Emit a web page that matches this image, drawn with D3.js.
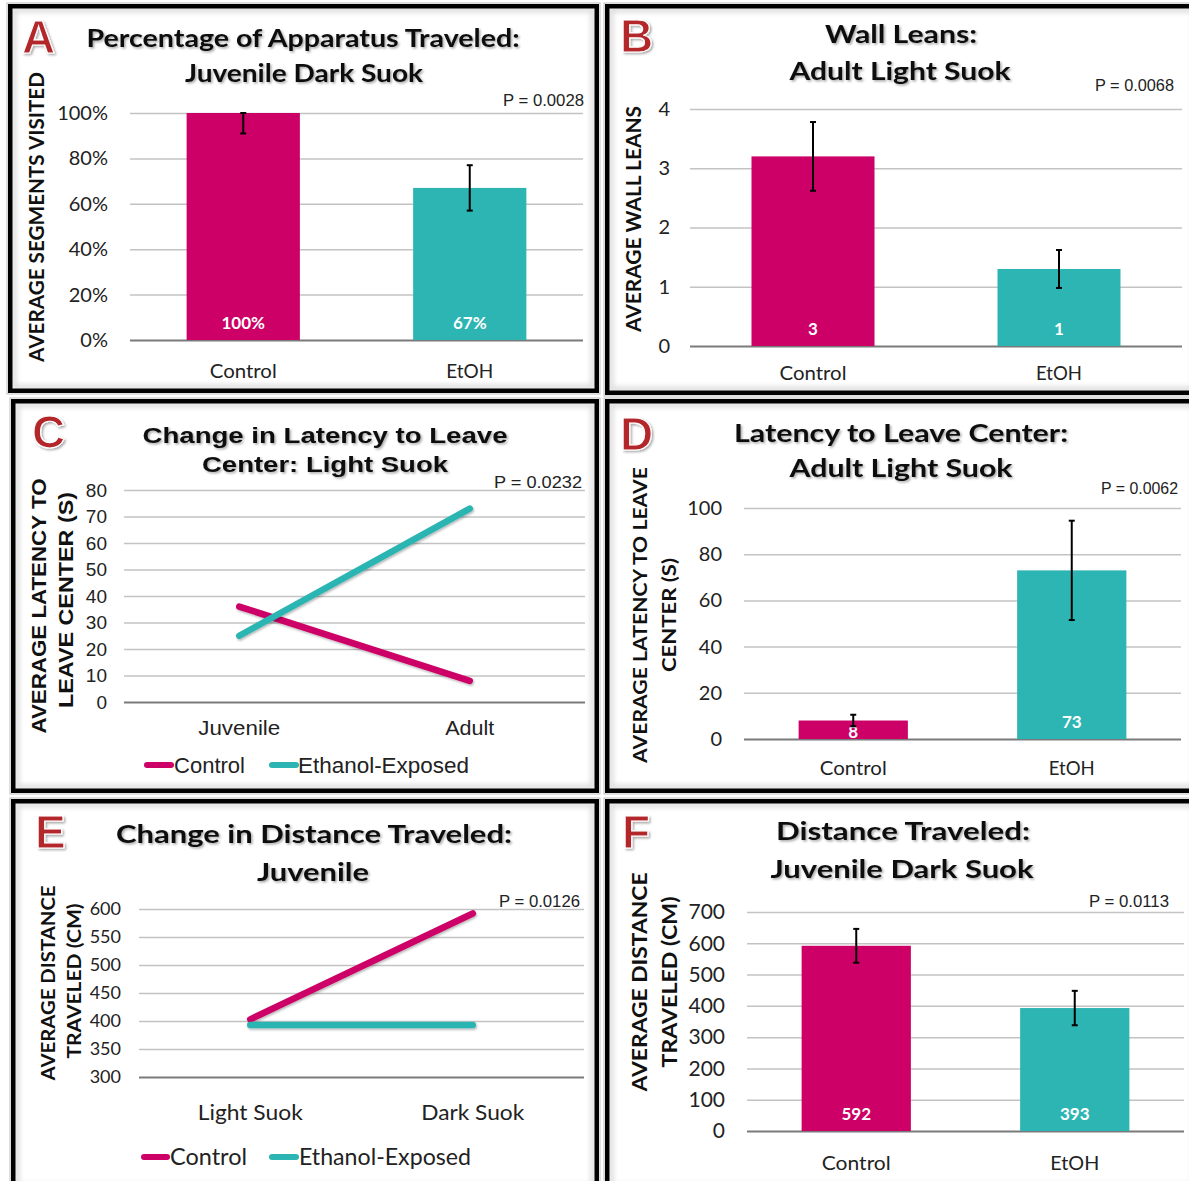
<!DOCTYPE html>
<html>
<head>
<meta charset="utf-8">
<script src="https://cdn.jsdelivr.net/npm/d3@7"></script>
<style>
  body { margin: 0; background: #fff; }
</style>
</head>
<body>
<div id="chart"></div>
<script>
"use strict";

// ---- data ----
var groups = ["Control", "EtOH"];
var seriesNames = ["Control", "Ethanol-Exposed"];

// A: percentage of apparatus traveled, juvenile dark suok
var pctVisited = [100, 67];
var pctVisitedErr = [9, 10];
var pctTicks = [0, 20, 40, 60, 80, 100];

// B: wall leans, adult light suok
var wallLeans = [3.2, 1.3];
var wallLeansErr = [0.58, 0.32];
var wallTicks = [0, 1, 2, 3, 4];

// C: change in latency to leave center, light suok
var ages = ["Juvenile", "Adult"];
var latencyControl = [36, 8];
var latencyEthanol = [25, 73];
var latencyLineTicks = [0, 10, 20, 30, 40, 50, 60, 70, 80];

// D: latency to leave center, adult light suok
var latencyAdult = [8, 73];
var latencyAdultErr = [2.5, 21.5];
var latencyBarTicks = [0, 20, 40, 60, 80, 100];

// E: change in distance traveled, juvenile
var suoks = ["Light Suok", "Dark Suok"];
var distanceControl = [403, 592];
var distanceEthanol = [393, 393];
var distanceLineTicks = [300, 350, 400, 450, 500, 550, 600];

// F: distance traveled, juvenile dark suok
var distanceDark = [592, 393];
var distanceDarkErr = [54, 55];
var distanceBarTicks = [0, 100, 200, 300, 400, 500, 600, 700];

var pValues = ["P = 0.0028", "P = 0.0068", "P = 0.0232", "P = 0.0062", "P = 0.0126", "P = 0.0113"];

// ---- style ----
var colors = ["#cc0066", "#2cb5b3"];
var CAL = "Lato, 'Open Sans', sans-serif";
var ARIAL = "'Liberation Sans', Arial, sans-serif";
var NARROW = "'Liberation Sans Narrow', 'Liberation Sans', sans-serif";
var gridColor = "#c3c3c3";
var zeroColor = "#7a7a7a";

var svg = d3.select("#chart").append("svg")
  .attr("width", 1189)
  .attr("height", 1181);

var defs = svg.append("defs");
defs.append("filter").attr("id", "shadow")
  .attr("x", "-10%").attr("y", "-30%").attr("width", "130%").attr("height", "170%")
  .append("feDropShadow")
    .attr("dx", 1.5).attr("dy", 1.5).attr("stdDeviation", 1.2)
    .attr("flood-color", "#000").attr("flood-opacity", 0.35);
defs.append("filter").attr("id", "blur")
  .append("feGaussianBlur").attr("stdDeviation", 2.5);
// user space region so a flat line keeps its shadow
defs.append("filter").attr("id", "lineShadow")
  .attr("filterUnits", "userSpaceOnUse")
  .attr("x", 0).attr("y", 0).attr("width", 1189).attr("height", 1181)
  .append("feDropShadow")
    .attr("dx", 1).attr("dy", 1.5).attr("stdDeviation", 1)
    .attr("flood-color", "#000").attr("flood-opacity", 0.3);

// helper for all the text on the page
function label(g, x, y, str, o) {
  var t = g.append("text")
    .attr("x", x)
    .attr("y", y)
    .attr("font-family", o.family || CAL)
    .attr("font-size", o.size)
    .attr("font-weight", o.weight || "normal")
    .attr("fill", o.fill || "#111")
    .attr("text-anchor", o.anchor || "middle")
    .text(str);
  if (o.width) {
    t.attr("textLength", o.width).attr("lengthAdjust", "spacingAndGlyphs");
  }
  if (o.rotate) {
    t.attr("transform", "rotate(-90," + x + "," + y + ")");
  }
  if (o.filter) {
    t.attr("filter", "url(#" + o.filter + ")");
  }
  return t;
}

function frame(x0, y0, x1, y1, letter, lx, ly) {
  var g = svg.append("g");
  // soft inner shade
  g.append("rect")
    .attr("x", x0 + 6).attr("y", y0 + 6)
    .attr("width", x1 - x0 - 12).attr("height", y1 - y0 - 12)
    .attr("fill", "none").attr("stroke", "#dcdcdc").attr("stroke-width", 5)
    .attr("filter", "url(#blur)");
  g.append("rect")
    .attr("x", x0 - 1).attr("y", y0 - 1)
    .attr("width", x1 - x0 + 2).attr("height", y1 - y0 + 2)
    .attr("fill", "none").attr("stroke", "#bdbdbd").attr("stroke-width", 1);
  g.append("rect")
    .attr("x", x0 + 2.25).attr("y", y0 + 2.25)
    .attr("width", x1 - x0 - 4.5).attr("height", y1 - y0 - 4.5)
    .attr("fill", "none").attr("stroke", "#000").attr("stroke-width", 4.5);
  label(g, lx, ly, letter, {family: ARIAL, size: 46, weight: "bold", fill: "#b3262c", anchor: "start", filter: "shadow"})
    .attr("stroke", "#fff").attr("stroke-width", 1.2);
  return g;
}

function barPanel(cfg) {
  var g = svg.append("g");
  var x = d3.scaleBand().domain(groups).range([cfg.x0, cfg.x1]).paddingInner(0.5).paddingOuter(0.25);
  var y = d3.scaleLinear().domain(cfg.domain).range([cfg.yBottom, cfg.yTop]);
  var base = cfg.domain[0];

  var axis = g.append("g")
    .attr("transform", "translate(" + cfg.x0 + ",0)")
    .call(d3.axisLeft(y)
      .tickValues(cfg.ticks)
      .tickSize(-(cfg.x1 - cfg.x0))
      .tickPadding(cfg.tickPad)
      .tickFormat(cfg.tickFormat || d3.format("d")));
  axis.select(".domain").remove();
  axis.selectAll(".tick line")
    .attr("stroke", function(d) { return d === base ? zeroColor : gridColor; })
    .attr("stroke-width", function(d) { return d === base ? 2 : 1.5; });
  axis.selectAll(".tick text")
    .attr("font-family", cfg.font)
    .attr("font-size", cfg.tickSize)
    .attr("fill", "#222");

  var rows = groups.map(function(k, i) {
    return {key: k, v: cfg.values[i], e: cfg.errs[i], i: i};
  });

  g.selectAll("rect.bar")
    .data(rows)
    .enter()
    .append("rect")
      .attr("class", "bar")
      .attr("x", function(d) { return x(d.key); })
      .attr("width", x.bandwidth())
      .attr("y", function(d) { return y(d.v); })
      .attr("height", function(d) { return y(base) - y(d.v); })
      .attr("fill", function(d) { return colors[d.i]; });

  // value labels inside the bars
  rows.forEach(function(d) {
    var h = y(base) - y(d.v);
    var ly = h < 30 ? y(base) - 1 : y(base) - 11;
    label(g, x(d.key) + x.bandwidth() / 2, ly, cfg.valueFormat(d.v),
      {size: cfg.valueSize, weight: "bold", fill: "#fff"});
  });

  // error bars
  var err = g.append("g").attr("stroke", "#000").attr("stroke-width", 2);
  rows.forEach(function(d) {
    var cx = x(d.key) + x.bandwidth() / 2;
    var hi = y(Math.min(d.v + d.e, cfg.domain[1]));
    var lo = y(d.v - d.e);
    err.append("line").attr("x1", cx).attr("x2", cx).attr("y1", hi).attr("y2", lo);
    err.append("line").attr("x1", cx - 3).attr("x2", cx + 3).attr("y1", hi).attr("y2", hi);
    err.append("line").attr("x1", cx - 3).attr("x2", cx + 3).attr("y1", lo).attr("y2", lo);
  });

  // category labels
  groups.forEach(function(k, i) {
    label(g, x(k) + x.bandwidth() / 2, cfg.catY, k, {size: cfg.catSize, width: cfg.catW[i], fill: "#222"});
  });
  return g;
}

function linePanel(cfg) {
  var g = svg.append("g");
  var x = d3.scalePoint().domain(cfg.cats).range([cfg.x0, cfg.x1]).padding(0.5);
  var y = d3.scaleLinear().domain(cfg.domain).range([cfg.yBottom, cfg.yTop]);
  var base = cfg.domain[0];

  var axis = g.append("g")
    .attr("transform", "translate(" + cfg.x0 + ",0)")
    .call(d3.axisLeft(y)
      .tickValues(cfg.ticks)
      .tickSize(-(cfg.x1 - cfg.x0))
      .tickPadding(cfg.tickPad)
      .tickFormat(d3.format("d")));
  axis.select(".domain").remove();
  axis.selectAll(".tick line")
    .attr("stroke", function(d) { return d === base ? zeroColor : gridColor; })
    .attr("stroke-width", function(d) { return d === base ? 2 : 1.5; });
  axis.selectAll(".tick text")
    .attr("font-family", cfg.font)
    .attr("font-size", cfg.tickSize)
    .attr("fill", "#222");

  var line = d3.line()
    .x(function(d) { return x(d.cat); })
    .y(function(d) { return y(d.v); });

  var series = [cfg.control, cfg.ethanol].map(function(vals, si) {
    return cfg.cats.map(function(c, i) { return {cat: c, v: vals[i], s: si}; });
  });

  g.selectAll("path.series")
    .data(series)
    .enter()
    .append("path")
      .attr("class", "series")
      .attr("d", line)
      .attr("fill", "none")
      .attr("stroke", function(d) { return colors[d[0].s]; })
      .attr("stroke-width", 6.5)
      .attr("stroke-linecap", "round")
      .attr("filter", "url(#lineShadow)");

  cfg.cats.forEach(function(c, i) {
    label(g, x(c), cfg.catY, c, {family: cfg.font, size: cfg.catSize, width: cfg.catW[i], fill: "#222"});
  });

  // legend
  seriesNames.forEach(function(name, i) {
    var L = cfg.legend[i];
    g.append("line")
      .attr("x1", L.lx0).attr("x2", L.lx1)
      .attr("y1", cfg.legendLineY).attr("y2", cfg.legendLineY)
      .attr("stroke", colors[i]).attr("stroke-width", 6).attr("stroke-linecap", "round");
    label(g, L.tx, cfg.legendY, name, {family: cfg.font, size: cfg.legendSize, width: L.tw, anchor: "start", fill: "#222"});
  });
  return g;
}

function titles(g, lines, font, size) {
  lines.forEach(function(t) {
    label(g, t.cx, t.y, t.text, {family: font, size: size, weight: "bold", width: t.w, filter: "shadow"});
  });
}

function yTitle(g, lines, font, size) {
  lines.forEach(function(t) {
    label(g, t.bx, t.cy, t.text, {family: font, size: size, weight: "bold", width: t.len, rotate: true});
  });
}

function pText(g, right, y, str, w) {
  label(g, right, y, str, {family: NARROW, size: 17, anchor: "end", width: w, fill: "#222"});
}

// ---- panel A ----
var gA = frame(8, 4, 599, 393, "A", 22, 53);
titles(gA, [
  {text: "Percentage of Apparatus Traveled:", cx: 303, y: 47, w: 433},
  {text: "Juvenile Dark Suok", cx: 304, y: 82, w: 238}
], CAL, 24);
pText(gA, 584, 106, pValues[0], 81);
yTitle(gA, [{text: "AVERAGE SEGMENTS VISITED", bx: 44, cy: 217, len: 290}], CAL, 20);
barPanel({
  x0: 130, x1: 583, yTop: 113, yBottom: 340, domain: [0, 100], ticks: pctTicks,
  tickFormat: function(d) { return d + "%"; }, tickPad: 22, tickSize: 20, font: CAL,
  values: pctVisited, errs: pctVisitedErr,
  valueFormat: function(v) { return d3.format(".0f")(v) + "%"; }, valueSize: 17,
  catY: 378, catSize: 20, catW: [67, 47]
});

// ---- panel B ----
var gB = frame(605, 4, 1200, 395, "B", 620, 52);
titles(gB, [
  {text: "Wall Leans:", cx: 901, y: 43, w: 152},
  {text: "Adult Light Suok", cx: 900, y: 80, w: 221}
], CAL, 24);
pText(gB, 1174, 91, pValues[1], 79);
yTitle(gB, [{text: "AVERAGE WALL LEANS", bx: 641, cy: 219, len: 226}], CAL, 20);
barPanel({
  x0: 690, x1: 1182, yTop: 109, yBottom: 346, domain: [0, 4], ticks: wallTicks,
  tickPad: 20, tickSize: 20, font: CAL,
  values: wallLeans, errs: wallLeansErr,
  valueFormat: d3.format(".0f"), valueSize: 17,
  catY: 380, catSize: 20, catW: [67, 46]
});

// ---- panel C ----
var gC = frame(11, 399, 599, 793, "C", 32, 448);
titles(gC, [
  {text: "Change in Latency to Leave", cx: 325, y: 443, w: 365},
  {text: "Center: Light Suok", cx: 325, y: 472, w: 246}
], ARIAL, 22);
pText(gC, 582, 488, pValues[2], 88);
yTitle(gC, [
  {text: "AVERAGE LATENCY TO", bx: 46, cy: 606, len: 255},
  {text: "LEAVE CENTER (S)", bx: 73, cy: 600, len: 216}
], ARIAL, 20);
linePanel({
  x0: 124, x1: 585, yTop: 490, yBottom: 702, domain: [0, 80], ticks: latencyLineTicks,
  tickPad: 17, tickSize: 19, font: ARIAL,
  cats: ages, control: latencyControl, ethanol: latencyEthanol,
  catY: 735, catSize: 21, catW: [82, 49],
  legendLineY: 765, legendY: 773, legendSize: 22,
  legend: [{lx0: 147, lx1: 171, tx: 174, tw: 71}, {lx0: 272, lx1: 296, tx: 298, tw: 171}]
});

// ---- panel D ----
var gD = frame(605, 399, 1200, 793, "D", 620, 450);
titles(gD, [
  {text: "Latency to Leave Center:", cx: 901, y: 442, w: 334},
  {text: "Adult Light Suok", cx: 901, y: 477, w: 223}
], CAL, 24);
pText(gD, 1178, 494, pValues[3], 77);
yTitle(gD, [
  {text: "AVERAGE LATENCY TO LEAVE", bx: 647, cy: 615, len: 296},
  {text: "CENTER (S)", bx: 676, cy: 615, len: 114}
], CAL, 19);
barPanel({
  x0: 744, x1: 1181, yTop: 508, yBottom: 739, domain: [0, 100], ticks: latencyBarTicks,
  tickPad: 22, tickSize: 20, font: CAL,
  values: latencyAdult, errs: latencyAdultErr,
  valueFormat: d3.format(".0f"), valueSize: 17,
  catY: 775, catSize: 20, catW: [67, 46]
});

// ---- panel E ----
var gE = frame(11, 799, 599, 1192, "E", 35, 848);
titles(gE, [
  {text: "Change in Distance Traveled:", cx: 314, y: 843, w: 396},
  {text: "Juvenile", cx: 313, y: 881, w: 112}
], CAL, 25);
pText(gE, 580, 907, pValues[4], 81);
yTitle(gE, [
  {text: "AVERAGE DISTANCE", bx: 55, cy: 983, len: 195},
  {text: "TRAVELED (CM)", bx: 81, cy: 981, len: 155}
], CAL, 18);
linePanel({
  x0: 139, x1: 584, yTop: 909, yBottom: 1077, domain: [300, 600], ticks: distanceLineTicks,
  tickPad: 18, tickSize: 18, font: CAL,
  cats: suoks, control: distanceControl, ethanol: distanceEthanol,
  catY: 1120, catSize: 22, catW: [105, 103],
  legendLineY: 1157, legendY: 1165, legendSize: 24,
  legend: [{lx0: 144, lx1: 167, tx: 170, tw: 77}, {lx0: 272, lx1: 296, tx: 299, tw: 172}]
});

// ---- panel F ----
var gF = frame(605, 799, 1200, 1192, "F", 622, 848);
titles(gF, [
  {text: "Distance Traveled:", cx: 903, y: 840, w: 254},
  {text: "Juvenile Dark Suok", cx: 902, y: 878, w: 263}
], CAL, 25);
pText(gF, 1169, 907, pValues[5], 80);
yTitle(gF, [
  {text: "AVERAGE DISTANCE", bx: 647, cy: 982, len: 219},
  {text: "TRAVELED (CM)", bx: 677, cy: 982, len: 171}
], CAL, 20);
barPanel({
  x0: 747, x1: 1184, yTop: 912, yBottom: 1131, domain: [0, 700], ticks: distanceBarTicks,
  tickPad: 22, tickSize: 21, font: CAL,
  values: distanceDark, errs: distanceDarkErr,
  valueFormat: d3.format(".0f"), valueSize: 17,
  catY: 1170, catSize: 20, catW: [69, 49]
});
</script>
</body>
</html>
